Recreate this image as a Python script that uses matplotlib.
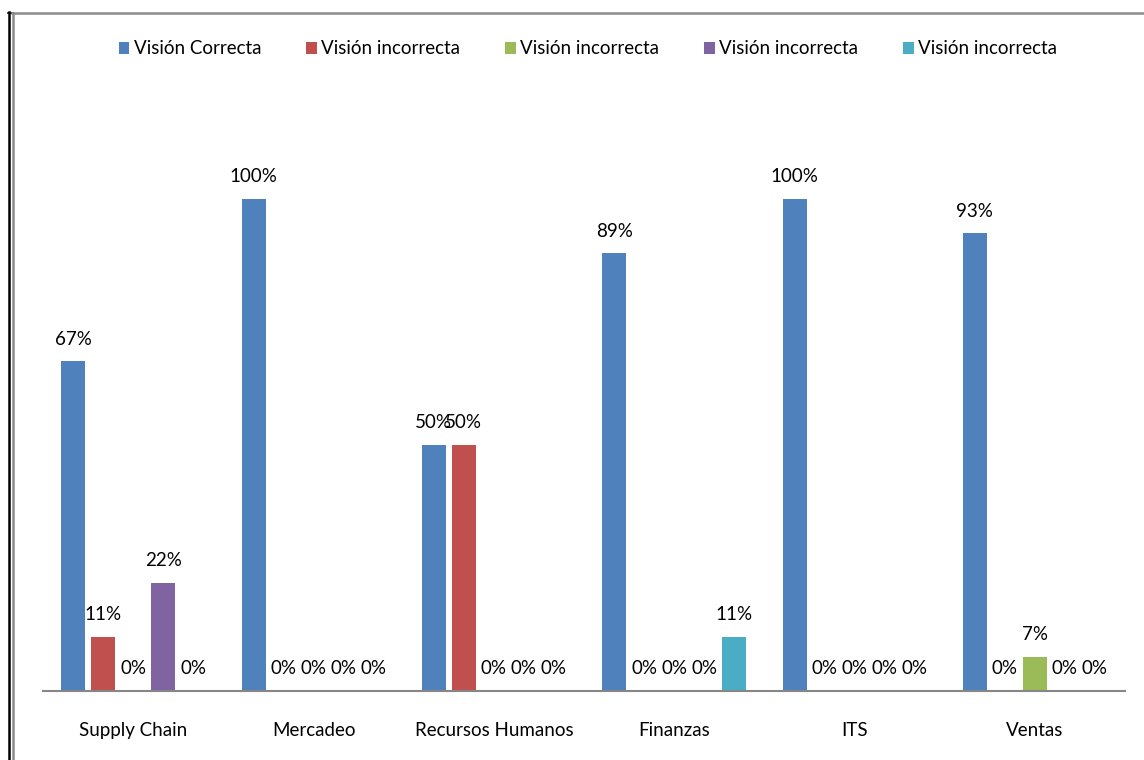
import matplotlib
matplotlib.use("Agg")
import matplotlib.pyplot as plt
from matplotlib.lines import Line2D
from matplotlib.patches import Patch

plt.rcParams['font.family'] = ['Lato', 'DejaVu Sans']

categories = ["Supply Chain", "Mercadeo", "Recursos Humanos", "Finanzas", "ITS", "Ventas"]
series_names = ["Visión Correcta", "Visión incorrecta", "Visión incorrecta",
                "Visión incorrecta", "Visión incorrecta"]
series_values = [
    [67, 100, 50, 89, 100, 93],
    [11, 0, 50, 0, 0, 0],
    [0, 0, 0, 0, 0, 7],
    [22, 0, 0, 0, 0, 0],
    [0, 0, 0, 11, 0, 0],
]
colors = ["#4F81BD", "#C0504D", "#9BBB59", "#8064A2", "#4BACC6"]

FS = 13.5
W, H = 1144, 760
fig = plt.figure(figsize=(W / 100, H / 100), dpi=100)

# axes in pixel coordinates
ax_left, ax_right = 43, 1125
ax_base, ax_top = 691, 100.6
ax = fig.add_axes([ax_left / W, (H - ax_base) / H,
                   (ax_right - ax_left) / W, (ax_base - ax_top) / H])
ax.set_xlim(-0.5, len(categories) - 0.5)
ax.set_ylim(0, 120)

cat_px = (ax_right - ax_left) / len(categories)
step = 30 / cat_px
width = 24 / cat_px
n = len(series_values)
handles = []
for i, (vals, col, name) in enumerate(zip(series_values, colors, series_names)):
    xs = [c + (i - (n - 1) / 2) * step for c in range(len(categories))]
    ax.bar(xs, vals, width=width, color=col, zorder=2)
    for x, v in zip(xs, vals):
        ax.annotate(f"{v}%", (x, v), xytext=(0, 22 * 72 / 100), textcoords="offset points",
                    ha="center", va="center", fontsize=FS, color="black")
    handles.append(Patch(facecolor=col, edgecolor='none', label=name))

for s in ["top", "right", "left"]:
    ax.spines[s].set_visible(False)
ax.spines["bottom"].set_color("#868686")
ax.spines["bottom"].set_linewidth(1.5)
ax.set_yticks([])
ax.set_xticks(range(len(categories)))
ax.set_xticklabels(categories, fontsize=FS)
ax.tick_params(axis='x', length=0, pad=22)

fig.legend(handles=handles, loc="center", bbox_to_anchor=(588 / W, 1 - 49 / H),
           ncol=5, frameon=False, fontsize=FS, handlelength=0.55, handleheight=0.55,
           handletextpad=0.25, columnspacing=2.4)

# frame lines
fig.add_artist(Line2D([8.5 / W, 8.5 / W], [0, 1 - 12 / H], color="black", lw=1.8,
                      transform=fig.transFigure))
fig.add_artist(Line2D([8 / W, 13 / W], [1 - 12.5 / H, 1 - 12.5 / H], color="black", lw=1.2,
                      transform=fig.transFigure))
fig.add_artist(Line2D([13 / W, 13 / W], [0, 1 - 13 / H], color="#8c8c8c", lw=1.8,
                      transform=fig.transFigure))
fig.add_artist(Line2D([12 / W, 1], [1 - 13 / H, 1 - 13 / H], color="#8c8c8c", lw=1.8,
                      transform=fig.transFigure))

fig.savefig("out.png", dpi=100)
